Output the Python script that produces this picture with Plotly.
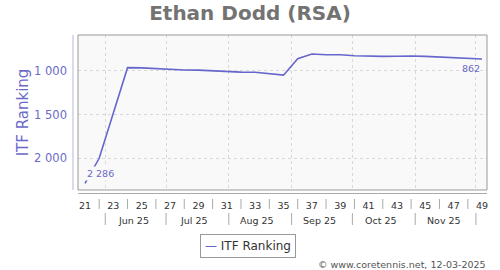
import datetime as dt
import plotly.graph_objects as go

# ---- data -------------------------------------------------------------
weeks = [21, 22, 23, 24, 25, 26, 27, 28, 29, 30, 31, 32, 33, 34, 35,
         36, 37, 38, 39, 40, 41, 42, 43, 44, 45, 46, 47, 48, 49]
ranking = [2286, 2000, 1480, 962, 965, 975, 980, 988, 990, 1000, 1008, 1013,
           1015, 1030, 1048, 860, 805, 815, 815, 825, 833, 833, 832, 828,
           833, 842, 850, 858, 862]
year = 2025
week_ticks = [21, 23, 25, 27, 29, 31, 33, 35, 37, 39, 41, 43, 45, 47, 49]
month_labels = ["Jun 25", "Jul 25", "Aug 25", "Sep 25", "Oct 25", "Nov 25"]
month_numbers = [6, 7, 8, 9, 10, 11]
series_name = "ITF Ranking"
title = "Ethan Dodd (RSA)"
credit = "© www.coretennis.net, 12-03-2025"

# ---- derived ----------------------------------------------------------
def week_date(w):
    return dt.date.fromisocalendar(year, w, 4)  # mid-week (Thursday)

xdates = [week_date(w) for w in weeks]
tickdates = [week_date(w) for w in week_ticks]
month_starts = [dt.date(year, m, 1) for m in month_numbers] + [dt.date(year, month_numbers[-1] + 1, 1)]
month_mids = [dt.date(year, m, 15) for m in month_numbers]
even_weeks = [week_date(w) for w in range(week_ticks[0] + 1, week_ticks[-1], 2)]

def fmt(v):
    return f"{v:,}".replace(",", " ")

LINE = "#6666cc"
TXT = "#6a6ac8"
GRID = "#d8d8d8"
GDASH = "3px,3px"

# plot-area geometry (px)
L, R, T, B = 78, 13, 35, 80
W_PLOT = 500 - L - R
H_PLOT = 270 - T - B

def cx(px):
    return (px - L) / W_PLOT

def cy(pyv):
    return (270 - B - pyv) / H_PLOT

def below(px_below):
    return -px_below / H_PLOT

fig = go.Figure()
fig.add_trace(go.Scatter(
    x=xdates, y=ranking, mode="lines", name=series_name,
    line=dict(color=LINE, width=1.6), showlegend=False,
    hovertemplate="Week %{customdata}: %{y}<extra></extra>",
    customdata=weeks,
))

shapes = []
# plot border
shapes.append(dict(type="rect", xref="paper", yref="paper", x0=0, x1=1, y0=0, y1=1,
                   line=dict(color="#999999", width=1), fillcolor="rgba(0,0,0,0)", layer="above"))
# offset y-axis line
shapes.append(dict(type="line", xref="paper", yref="paper", x0=-5 / W_PLOT, x1=-5 / W_PLOT, y0=0, y1=1,
                   line=dict(color="#b4b4e0", width=1)))
# offset x-axis line
shapes.append(dict(type="line", xref="paper", yref="paper", x0=0, x1=1, y0=below(3.5), y1=below(3.5),
                   line=dict(color="#aaaaaa", width=1)))
# week label separators
for d in even_weeks:
    shapes.append(dict(type="line", xref="x", yref="paper", x0=d, x1=d, y0=below(9), y1=below(19),
                       line=dict(color="#aaaaaa", width=1)))
# month label separators
for d in month_starts:
    shapes.append(dict(type="line", xref="x", yref="paper", x0=d, x1=d, y0=below(23), y1=below(35),
                       line=dict(color="#aaaaaa", width=1)))

annotations = []
for d, lab in zip(month_mids, month_labels):
    annotations.append(dict(x=d, y=below(30), xref="x", yref="paper", text=lab, showarrow=False,
                            xanchor="center", yanchor="middle",
                            font=dict(size=9.5, color="#333333")))
# data labels first / last
annotations.append(dict(x=xdates[0], y=ranking[0], xref="x", yref="y", text=fmt(ranking[0]),
                        showarrow=False, xanchor="left", yanchor="bottom", yshift=2,
                        bgcolor="#f9f9f9", borderpad=1, font=dict(size=9.5, color=TXT)))
annotations.append(dict(x=xdates[-1], y=ranking[-1], xref="x", yref="y", text=fmt(ranking[-1]),
                        showarrow=False, xanchor="right", yanchor="top", yshift=-2,
                        borderpad=1, font=dict(size=9.5, color=TXT)))
# legend box
annotations.append(dict(x=cx(248), y=cy(246), xref="paper", yref="paper",
                        text=f"<span style='color:{LINE}'>—</span> {series_name}",
                        showarrow=False, xanchor="center", yanchor="middle",
                        bordercolor="#999999", borderwidth=1, borderpad=4,
                        font=dict(size=12, color="#333333")))
# credit
annotations.append(dict(x=cx(488), y=cy(264), xref="paper", yref="paper", text=credit,
                        showarrow=False, xanchor="right", yanchor="middle",
                        font=dict(size=9.5, color="#555555")))

fig.update_layout(
    width=500, height=270,
    margin=dict(l=L, r=R, t=T, b=B),
    paper_bgcolor="white", plot_bgcolor="#f9f9f9",
    font=dict(family="DejaVu Sans", size=10, color="#333333"),
    separators=". ",
    title=dict(text=title, x=0.5, xref="container", xanchor="center",
               y=1 - 13 / 270, yref="container", yanchor="middle",
               font=dict(family="DejaVu Sans", size=20, color="#737373", weight=700)),
    xaxis=dict(type="date", range=["2025-05-18 13:00", "2025-12-06 11:00"],
               tickmode="array", tickvals=tickdates, ticktext=[str(w) for w in week_ticks],
               showgrid=False, zeroline=False, showline=False, ticks="",
               ticklabelstandoff=8, tickfont=dict(size=9.5, color="#333333"),
               minor=dict(tickmode="array", tickvals=month_starts, showgrid=True,
                          gridcolor=GRID, griddash=GDASH, gridwidth=1, ticks="")),
    yaxis=dict(range=[2363, 588], tickmode="array", tickvals=[1000, 1500, 2000],
               tickformat=",d", showgrid=True, gridcolor=GRID, griddash=GDASH,
               zeroline=False, showline=False, ticks="", ticklabelstandoff=10,
               tickfont=dict(size=11.5, color=TXT),
               title=dict(text=series_name, font=dict(size=15, color=TXT), standoff=1)),
    shapes=shapes,
    annotations=annotations,
    showlegend=False,
)

fig.write_html("out.html")
